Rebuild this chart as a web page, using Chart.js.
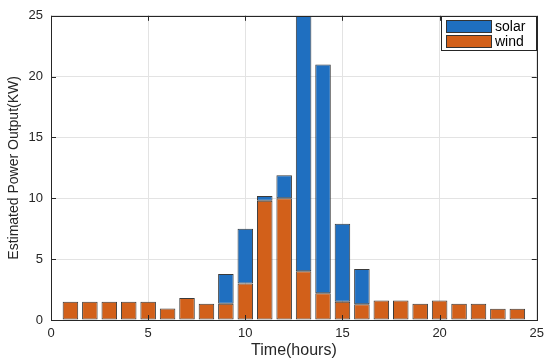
<!DOCTYPE html>
<html>
<head>
<meta charset="utf-8">
<script src="https://cdn.jsdelivr.net/npm/chart.js@4/dist/chart.umd.min.js"></script>
<style>
html,body{margin:0;padding:0;background:#fff;}
#wrap{width:550px;height:363px;position:relative;}
</style>
</head>
<body>
<div id="wrap"><canvas id="c" width="550" height="363"></canvas></div>
<script>
const hours = [1,2,3,4,5,6,7,8,9,10,11,12,13,14,15,16,17,18,19,20,21,22,23,24];
const wind  = [1.5,1.5,1.5,1.5,1.5,0.95,1.8,1.33,1.33,3.0,9.8,10.0,4.0,2.2,1.5,1.3,1.6,1.6,1.33,1.6,1.33,1.33,0.93,0.93];
const solar = [0,0,0,0,0,0,0,0,2.45,4.5,0.4,1.9,21.0,18.8,6.4,2.9,0,0,0,0,0,0,0,0];
const xTicks = [0,5,10,15,20,25];
const yTicks = [0,5,10,15,20,25];
const seriesNames = ['solar','wind'];

const L = 51, R = 541, T = 8, B = 320;
const font = "'Liberation Sans', Arial, sans-serif";
const colors = {solar: '#1f6fc0', wind: '#d2601a'};

const frame = {
  id: 'frame',
  afterDraw(chart) {
    const {ctx, chartArea: a, scales} = chart;
    ctx.save();
    ctx.strokeStyle = '#262626';
    ctx.lineWidth = 1;
    ctx.strokeRect(Math.round(a.left)+0.5, Math.round(a.top)+0.5, Math.round(a.right-a.left), Math.round(a.bottom-a.top));
    ctx.beginPath();
    xTicks.forEach(v => {
      const x = Math.round(scales.x.getPixelForValue(v))+0.5;
      ctx.moveTo(x, a.bottom); ctx.lineTo(x, a.bottom-5);
      ctx.moveTo(x, a.top); ctx.lineTo(x, a.top+5);
    });
    yTicks.forEach(v => {
      const y = Math.round(scales.y.getPixelForValue(v))+0.5;
      ctx.moveTo(a.left, y); ctx.lineTo(a.left+5, y);
      ctx.moveTo(a.right, y); ctx.lineTo(a.right-5, y);
    });
    ctx.stroke();
    // legend
    const lx = 441, ly = 16, lw = 95, lh = 34;
    ctx.fillStyle = '#fff';
    ctx.fillRect(lx, ly, lw, lh);
    ctx.strokeStyle = '#262626';
    ctx.strokeRect(lx+0.5, ly+0.5, lw, lh);
    seriesNames.forEach((name, i) => {
      const yy = ly + 4 + i*15;
      ctx.fillStyle = colors[name];
      ctx.fillRect(lx+5, yy, 45, 12);
      ctx.strokeStyle = '#333';
      ctx.strokeRect(lx+5.5, yy+0.5, 45, 12);
      ctx.fillStyle = '#000';
      ctx.font = "14px " + font;
      ctx.textBaseline = 'middle';
      ctx.fillText(name, lx+54, yy+7);
    });
    ctx.restore();
  }
};

new Chart(document.getElementById('c'), {
  type: 'bar',
  data: {
    datasets: [
      {label: 'wind', data: hours.map((h,i)=>({x:h, y:wind[i]})), backgroundColor: colors.wind, borderColor: '#3a3a3a', borderWidth: 1, borderSkipped: false},
      {label: 'solar', data: hours.map((h,i)=>({x:h, y:solar[i]})), backgroundColor: colors.solar, borderColor: '#3a3a3a', borderWidth: 1, borderSkipped: false}
    ]
  },
  options: {
    responsive: false,
    animation: false,
    layout: {padding: {left: 0, right: 550-R, top: T, bottom: 0}},
    datasets: {bar: {barPercentage: 0.8, categoryPercentage: 1.0}},
    plugins: {legend: {display: false}, tooltip: {enabled: false}},
    scales: {
      x: {
        type: 'linear', min: 0, max: 25, stacked: true, offset: false,
        afterBuildTicks: s => { s.ticks = xTicks.map(v=>({value:v})); },
        afterFit: s => { s.height = 363 - B; },
        grid: {color: '#e3e3e3', drawTicks: false, offset: false},
        border: {display: false},
        ticks: {color: '#262626', font: {size: 13, family: font}, padding: 6, maxRotation: 0},
        title: {display: true, text: 'Time(hours)', color: '#262626', font: {size: 16, family: font}, padding: {top: 0, bottom: 3}}
      },
      y: {
        type: 'linear', min: 0, max: 25, stacked: true,
        afterBuildTicks: s => { s.ticks = yTicks.map(v=>({value:v})); },
        afterFit: s => { s.width = L; },
        grid: {color: '#e3e3e3', drawTicks: false},
        border: {display: false},
        ticks: {color: '#262626', font: {size: 13, family: font}, padding: 8},
        title: {display: true, text: 'Estimated Power Output(KW)', color: '#262626', font: {size: 14, family: font}, padding: {top: 6, bottom: 0}}
      }
    }
  },
  plugins: [frame]
});
</script>
</body>
</html>
